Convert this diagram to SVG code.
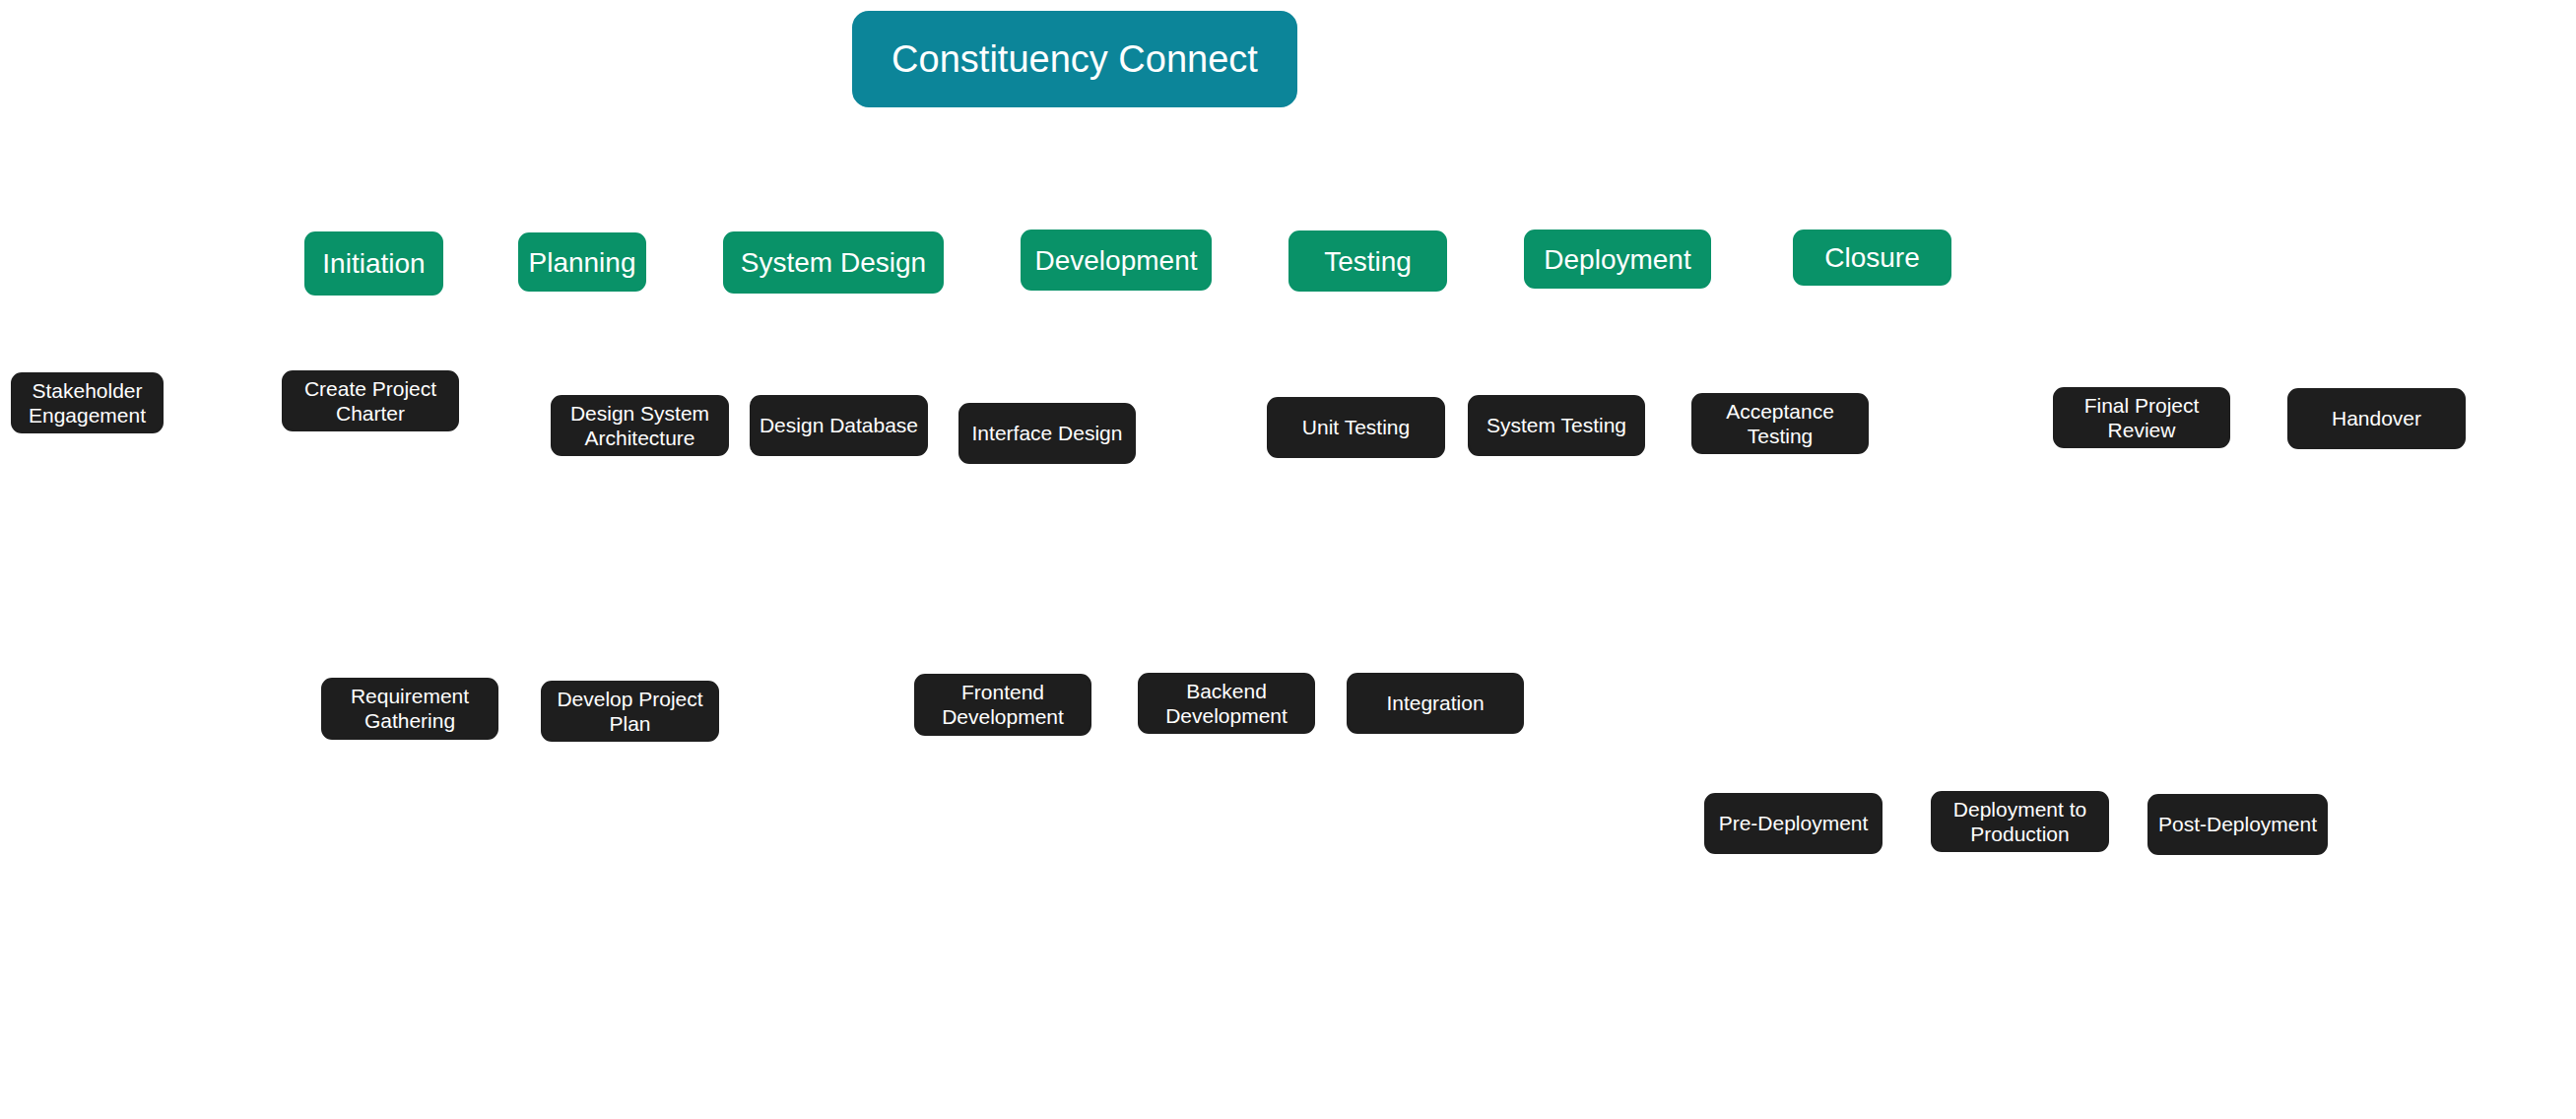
<svg xmlns="http://www.w3.org/2000/svg" width="2615" height="1136" viewBox="0 0 2615 1136">
<style>
.title rect{fill:#0c8599;stroke:#0c8599;stroke-width:2}
.phase rect{fill:#099268;stroke:#099268;stroke-width:2}
.task rect{fill:#1e1e1e;stroke:#1e1e1e;stroke-width:2}
text{font-family:"Liberation Sans",Arial,sans-serif;fill:#ffffff;text-anchor:middle}
.title text{font-size:38px}
.phase text{font-size:28px}
.task text{font-size:21px}
</style>
<rect width="2615" height="1136" fill="#ffffff"/>
<g id="connectors"></g>
<g id="title" class="title"><rect x="866" y="12" width="450" height="96" rx="16"/><text x="1091" y="73">Constituency Connect</text></g>
<g id="initiation" class="phase"><rect x="310" y="236" width="139" height="63" rx="10"/><text x="379.5" y="277">Initiation</text></g>
<g id="planning" class="phase"><rect x="527" y="237" width="128" height="58" rx="10"/><text x="591" y="276">Planning</text></g>
<g id="system-design" class="phase"><rect x="735" y="236" width="222" height="61" rx="10"/><text x="846" y="276">System Design</text></g>
<g id="development" class="phase"><rect x="1037" y="234" width="192" height="60" rx="10"/><text x="1133" y="274">Development</text></g>
<g id="testing" class="phase"><rect x="1309" y="235" width="159" height="60" rx="10"/><text x="1388.5" y="275">Testing</text></g>
<g id="deployment" class="phase"><rect x="1548" y="234" width="188" height="58" rx="10"/><text x="1642" y="273">Deployment</text></g>
<g id="closure" class="phase"><rect x="1821" y="234" width="159" height="55" rx="10"/><text x="1900.5" y="271">Closure</text></g>
<g id="stakeholder-engagement" class="task"><rect x="12" y="379" width="153" height="60" rx="10"/><text x="88.5" y="404">Stakeholder</text><text x="88.5" y="429">Engagement</text></g>
<g id="create-project-charter" class="task"><rect x="287" y="377" width="178" height="60" rx="10"/><text x="376" y="402">Create Project</text><text x="376" y="427">Charter</text></g>
<g id="design-system-architecture" class="task"><rect x="560" y="402" width="179" height="60" rx="10"/><text x="649.5" y="427">Design System</text><text x="649.5" y="452">Architecture</text></g>
<g id="design-database" class="task"><rect x="762" y="402" width="179" height="60" rx="10"/><text x="851.5" y="439">Design Database</text></g>
<g id="interface-design" class="task"><rect x="974" y="410" width="178" height="60" rx="10"/><text x="1063" y="447">Interface Design</text></g>
<g id="unit-testing" class="task"><rect x="1287" y="404" width="179" height="60" rx="10"/><text x="1376.5" y="441">Unit Testing</text></g>
<g id="system-testing" class="task"><rect x="1491" y="402" width="178" height="60" rx="10"/><text x="1580" y="439">System Testing</text></g>
<g id="acceptance-testing" class="task"><rect x="1718" y="400" width="178" height="60" rx="10"/><text x="1807" y="425">Acceptance</text><text x="1807" y="450">Testing</text></g>
<g id="final-project-review" class="task"><rect x="2085" y="394" width="178" height="60" rx="10"/><text x="2174" y="419">Final Project</text><text x="2174" y="444">Review</text></g>
<g id="handover" class="task"><rect x="2323" y="395" width="179" height="60" rx="10"/><text x="2412.5" y="432">Handover</text></g>
<g id="requirement-gathering" class="task"><rect x="327" y="689" width="178" height="61" rx="10"/><text x="416" y="714">Requirement</text><text x="416" y="739">Gathering</text></g>
<g id="develop-project-plan" class="task"><rect x="550" y="692" width="179" height="60" rx="10"/><text x="639.5" y="717">Develop Project</text><text x="639.5" y="742">Plan</text></g>
<g id="frontend-development" class="task"><rect x="929" y="685" width="178" height="61" rx="10"/><text x="1018" y="710">Frontend</text><text x="1018" y="735">Development</text></g>
<g id="backend-development" class="task"><rect x="1156" y="684" width="178" height="60" rx="10"/><text x="1245" y="709">Backend</text><text x="1245" y="734">Development</text></g>
<g id="integration" class="task"><rect x="1368" y="684" width="178" height="60" rx="10"/><text x="1457" y="721">Integration</text></g>
<g id="pre-deployment" class="task"><rect x="1731" y="806" width="179" height="60" rx="10"/><text x="1820.5" y="843">Pre-Deployment</text></g>
<g id="deployment-to-production" class="task"><rect x="1961" y="804" width="179" height="60" rx="10"/><text x="2050.5" y="829">Deployment to</text><text x="2050.5" y="854">Production</text></g>
<g id="post-deployment" class="task"><rect x="2181" y="807" width="181" height="60" rx="10"/><text x="2271.5" y="844">Post-Deployment</text></g>
</svg>
